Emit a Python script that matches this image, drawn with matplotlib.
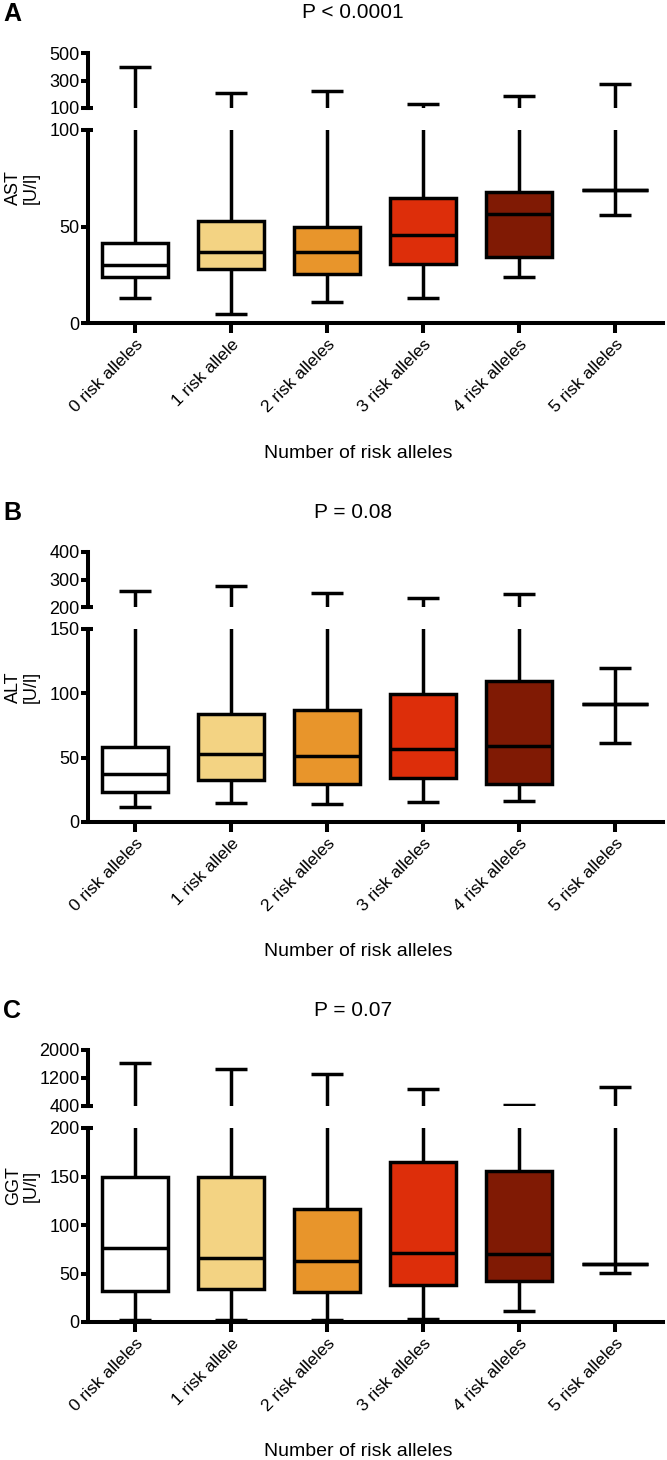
import matplotlib
matplotlib.use('Agg')
import matplotlib.pyplot as plt

plt.rcParams['font.family'] = ['Liberation Sans', 'DejaVu Sans']

categories = ['0 risk alleles', '1 risk allele', '2 risk alleles',
              '3 risk alleles', '4 risk alleles', '5 risk alleles']
box_colors = ['#FFFFFF', '#F3D383', '#E8952B', '#DD2E0A', '#801A04', 'none']

# AST [U/l]
ast_whislo = [13, 4.7, 11, 13, 24, 56]
ast_q1 = [24, 28, 25.5, 30.5, 34, 69]
ast_med = [30, 37, 37, 45.5, 56.5, 69]
ast_q3 = [41.5, 53, 50, 65, 68, 69]
ast_whishi = [398, 209, 224, 127, 188, 275]

# ALT [U/l]
alt_whislo = [11.5, 14.5, 14, 15.5, 16.5, 61.5]
alt_q1 = [23.5, 32.5, 29.5, 34, 29.5, 92]
alt_med = [37, 53, 51, 57, 59, 92]
alt_q3 = [58, 84, 87, 99.5, 109.5, 92]
alt_whishi = [258, 276, 251, 233, 247, 119.5]

# GGT [U/l]
ggt_whislo = [2, 2, 2, 3, 11, 50.5]
ggt_q1 = [32, 34, 31, 38, 42, 60]
ggt_med = [76, 66, 63, 71, 70, 60]
ggt_q3 = [149.5, 149, 117, 165, 155.5, 60]
ggt_whishi = [1629, 1457, 1314, 886, 430, 943]

panels = [
    dict(letter='A', title='P < 0.0001', ylabel='AST\n[U/l]',
         data=(ast_whislo, ast_q1, ast_med, ast_q3, ast_whishi),
         top_lim=(100, 500), top_ticks=[100, 300, 500],
         bot_lim=(0, 100), bot_ticks=[0, 50, 100],
         top_px=(53, 108), bot_px=(130, 323)),
    dict(letter='B', title='P = 0.08', ylabel='ALT\n[U/l]',
         data=(alt_whislo, alt_q1, alt_med, alt_q3, alt_whishi),
         top_lim=(200, 400), top_ticks=[200, 300, 400],
         bot_lim=(0, 150), bot_ticks=[0, 50, 100, 150],
         top_px=(552, 607), bot_px=(629, 822)),
    dict(letter='C', title='P = 0.07', ylabel='GGT\n[U/l]',
         data=(ggt_whislo, ggt_q1, ggt_med, ggt_q3, ggt_whishi),
         top_lim=(400, 2000), top_ticks=[400, 1200, 2000],
         bot_lim=(0, 200), bot_ticks=[0, 50, 100, 150, 200],
         top_px=(1050, 1106), bot_px=(1128, 1322)),
]

W, H = 667, 1460
fig = plt.figure(figsize=(W / 100, H / 100), dpi=100)
LW = 2.5
SLW = 2.9
left_px, right_px = 88, 663


def ax_rect(y0, y1):
    return [left_px / W, 1 - y1 / H, (right_px - left_px) / W, (y1 - y0) / H]


def draw_boxes(ax, data):
    wl, q1, med, q3, wh = data
    stats = []
    for i in range(len(categories)):
        stats.append(dict(whislo=wl[i], q1=q1[i], med=med[i], q3=q3[i],
                          whishi=wh[i], fliers=[]))
    bp = ax.bxp(stats, positions=list(range(len(categories))), widths=0.68,
                patch_artist=True, showfliers=False, capwidths=0.34,
                boxprops=dict(linewidth=LW, edgecolor='black'),
                whiskerprops=dict(linewidth=LW, color='black', solid_capstyle='butt'),
                capprops=dict(linewidth=LW, color='black', solid_capstyle='butt'),
                medianprops=dict(linewidth=LW, color='black', solid_capstyle='butt'))
    for patch, c in zip(bp['boxes'], box_colors):
        patch.set_facecolor(c)
        patch.set_joinstyle('miter')
    return bp


for p in panels:
    axt = fig.add_axes(ax_rect(*p['top_px']))
    axb = fig.add_axes(ax_rect(*p['bot_px']))
    for ax in (axt, axb):
        draw_boxes(ax, p['data'])
        ax.set_xlim(-0.49, 5.5)
        for s in ('top', 'right'):
            ax.spines[s].set_visible(False)
        ax.spines['left'].set_linewidth(SLW)
        ax.tick_params(axis='y', direction='out', length=5, width=SLW,
                       labelsize=13, pad=1)
        ax.patch.set_alpha(0)
    axt.set_ylim(*p['top_lim'])
    axt.set_yticks(p['top_ticks'])
    axt.spines['bottom'].set_visible(False)
    axt.tick_params(axis='x', bottom=False, labelbottom=False)
    axb.set_ylim(*p['bot_lim'])
    axb.set_yticks(p['bot_ticks'])
    axb.spines['bottom'].set_linewidth(SLW)
    axb.set_xticks(range(len(categories)))
    axb.set_xticklabels(categories, rotation=45, ha='right', va='top',
                        rotation_mode='anchor', fontsize=12.5)
    axb.tick_params(axis='x', direction='out', length=7, width=SLW, pad=3)
    # break marks at the spine ends
    axt.plot([0, 0.008], [0, 0], transform=axt.transAxes, color='black',
             lw=SLW, clip_on=False, solid_capstyle='butt')
    axb.plot([0, 0.008], [1, 1], transform=axb.transAxes, color='black',
             lw=SLW, clip_on=False, solid_capstyle='butt')

    ytop, ybot = p['top_px'][0], p['bot_px'][1]
    fig.text(353 / W, 1 - (ytop - 40) / H, p['title'], ha='center', va='center',
             fontsize=15)
    fig.text(12 / W, 1 - (ytop - 39) / H, p['letter'], ha='center', va='center',
             fontsize=18, fontweight='bold')
    fig.text(22 / W, 1 - ((ytop + ybot) / 2) / H, p['ylabel'], ha='center',
             va='center', rotation=90, fontsize=13, linespacing=1.05)
    fig.text(358 / W, 1 - (ybot + 130) / H, 'Number of risk alleles',
             ha='center', va='center', fontsize=14)

fig.savefig('out.png', dpi=100, facecolor='white')
